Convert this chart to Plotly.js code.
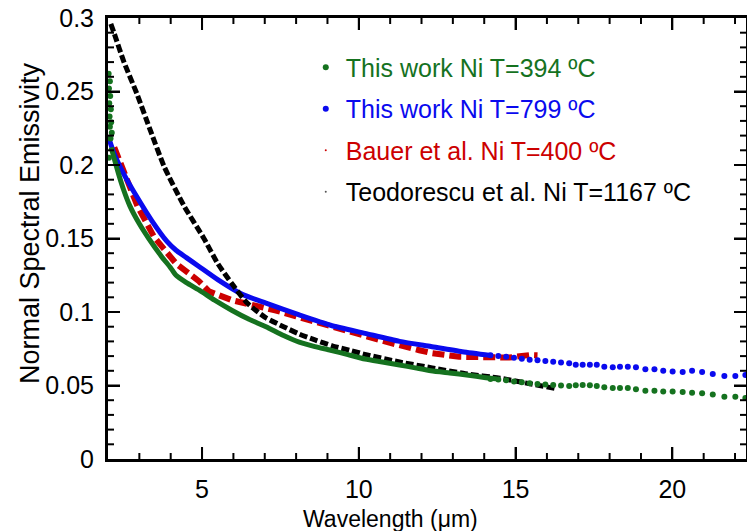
<!DOCTYPE html>
<html>
<head>
<meta charset="utf-8">
<script src="https://cdn.plot.ly/plotly-3.0.1.min.js"></script>
<style>html,body{margin:0;padding:0;background:#fff}#chart{width:747px;height:531px}</style>
</head>
<body>
<div id="chart"></div>
<script>
// ---- Data ----
const seriesNames = [
  'This work Ni T=394 ºC',
  'This work Ni T=799 ºC',
  'Bauer et al. Ni T=400 ºC',
  'Teodorescu et al. Ni T=1167 ºC'
];
const xTitle = 'Wavelength (μm)';
const yTitle = 'Normal Spectral Emissivity';

// This work, 394 C : dense continuous part
const green394_x = [2.1, 2.19, 2.35, 2.5, 2.7, 3.0, 3.3, 3.7, 4.0, 4.17, 4.5, 4.9, 5.4, 5.96, 6.5, 7.04, 7.6, 8.1, 8.6, 9.1, 9.65, 10.2, 10.75, 11.3, 11.8, 12.3, 12.9, 13.5, 14.0, 14.4];
const green394_y = [0.212, 0.205, 0.193, 0.183, 0.172, 0.160, 0.150, 0.138, 0.130, 0.125, 0.120, 0.115, 0.108, 0.101, 0.095, 0.090, 0.084, 0.0795, 0.0765, 0.074, 0.071, 0.068, 0.066, 0.064, 0.062, 0.060, 0.0585, 0.057, 0.0555, 0.0545];
// This work, 394 C : scattered points (start) and sparse tail
const green394pts_x = [2.02, 2.06, 2.03, 2.07, 2.04, 2.09, 2.05, 2.1, 2.06, 2.12, 2.08, 2.03,
  14.2, 14.45, 14.7, 14.95, 15.2, 15.45, 15.7, 15.95, 16.2, 16.45, 16.71, 16.92, 17.14, 17.37, 17.59, 17.83, 18.10, 18.33, 18.58, 18.84, 19.14, 19.43, 19.71, 20.01, 20.33, 20.63, 20.95, 21.29, 21.66, 22.01, 22.33];
const green394pts_y = [0.262, 0.257, 0.252, 0.247, 0.242, 0.238, 0.233, 0.229, 0.226, 0.222, 0.218, 0.205,
  0.0545, 0.0540, 0.0535, 0.0528, 0.0522, 0.0515, 0.0510, 0.0506, 0.0503, 0.0500, 0.0497, 0.0501, 0.0503, 0.0501, 0.0497, 0.0488, 0.0483, 0.0483, 0.0483, 0.0474, 0.0465, 0.0465, 0.0460, 0.0460, 0.0456, 0.0451, 0.0447, 0.0438, 0.0424, 0.0424, 0.0415];

// This work, 799 C
const blue799_x = [2.0, 2.19, 2.5, 2.93, 3.4, 3.88, 4.17, 4.5, 4.9, 5.5, 6.28, 7.04, 8.1, 9.1, 10.2, 11.3, 12.3, 13.3, 14.2];
const blue799_y = [0.220, 0.208, 0.194, 0.178, 0.162, 0.148, 0.142, 0.137, 0.131, 0.122, 0.112, 0.106, 0.098, 0.091, 0.0855, 0.080, 0.0765, 0.073, 0.0705];
const blue799pts_x = [14.2, 14.45, 14.7, 14.95, 15.2, 15.45, 15.7, 15.95, 16.2, 16.45, 16.71, 16.92, 17.14, 17.37, 17.59, 17.83, 18.10, 18.33, 18.58, 18.84, 19.14, 19.43, 19.71, 20.01, 20.33, 20.63, 20.95, 21.29, 21.66, 22.01, 22.33];
const blue799pts_y = [0.0705, 0.0700, 0.0695, 0.0688, 0.0682, 0.0676, 0.0671, 0.0667, 0.0662, 0.0657, 0.0651, 0.0642, 0.0642, 0.0642, 0.0642, 0.0628, 0.0624, 0.0628, 0.0628, 0.0624, 0.0610, 0.0610, 0.0601, 0.0596, 0.0592, 0.0601, 0.0592, 0.0578, 0.0565, 0.0565, 0.0572];

// Bauer et al., 400 C
const bauer_x = [2.2, 2.5, 2.67, 2.94, 3.47, 4.17, 4.9, 5.22, 5.96, 6.6, 7.36, 8.0, 8.64, 9.4, 10.23, 11.0, 11.93, 12.34, 13.2, 14.06, 14.8, 15.44, 15.7];
const bauer_y = [0.212, 0.196, 0.185, 0.172, 0.151, 0.133, 0.121, 0.114, 0.108, 0.105, 0.101, 0.097, 0.093, 0.089, 0.084, 0.079, 0.074, 0.072, 0.0695, 0.0687, 0.069, 0.0707, 0.0705];

// Teodorescu et al., 1167 C
const teo_x = [2.09, 2.19, 2.51, 2.93, 3.36, 3.79, 4.43, 5.06, 5.5, 5.96, 6.4, 6.72, 7.04, 7.6, 8.1, 8.6, 9.15, 9.7, 10.23, 11.3, 12.34, 13.4, 14.5, 15.5, 16.25];
const teo_y = [0.296, 0.290, 0.270, 0.248, 0.223, 0.199, 0.172, 0.150, 0.133, 0.119, 0.107, 0.101, 0.096, 0.090, 0.085, 0.081, 0.077, 0.074, 0.071, 0.066, 0.062, 0.058, 0.055, 0.051, 0.048];

// Axis ranges and tick positions
const xRange = [2, 22.35], yRange = [0, 0.3];
const xMajorTicks = [5, 10, 15, 20];
const xMinorTicks = [3, 4, 6, 7, 8, 9, 11, 12, 13, 14, 16, 17, 18, 19, 21, 22];
const yMajorTicks = [0.05, 0.1, 0.15, 0.2, 0.25];
const yMinorTicks = [0.01, 0.02, 0.03, 0.04, 0.06, 0.07, 0.08, 0.09, 0.11, 0.12, 0.13, 0.14, 0.16, 0.17, 0.18, 0.19, 0.21, 0.22, 0.23, 0.24, 0.26, 0.27, 0.28, 0.29];

// ---- Styles ----
const GREEN = '#15721f', BLUE = '#0a0aee', RED = '#cc0000', BLACK = '#000000';
const FONT = 'Liberation Sans, Arial, sans-serif';
const lbl = (c, t) => '<span style="color:' + c + '">' + t + '</span>';
const PLOT_W = 638, PLOT_H = 441, MAJOR_LEN = 12, MINOR_LEN = 6;

const traces = [
  {x: bauer_x, y: bauer_y, mode: 'lines', line: {color: RED, width: 6, dash: '12px,5px'}, showlegend: false},
  {x: blue799_x, y: blue799_y, mode: 'lines', line: {color: BLUE, width: 5, shape: 'spline', smoothing: 0.6}, showlegend: false},
  {x: blue799pts_x, y: blue799pts_y, mode: 'markers', marker: {color: BLUE, size: 6}, name: lbl(BLUE, seriesNames[1]), legendgroup: 'b', legendrank: 2},
  {x: teo_x, y: teo_y, mode: 'lines', line: {color: BLACK, width: 5, dash: '8px,3px', shape: 'spline', smoothing: 0.6}, showlegend: false},
  {x: green394_x, y: green394_y, mode: 'lines', line: {color: GREEN, width: 5, shape: 'spline', smoothing: 0.6}, showlegend: false},
  {x: green394pts_x, y: green394pts_y, mode: 'markers', marker: {color: GREEN, size: 6}, name: lbl(GREEN, seriesNames[0]), legendgroup: 'g', legendrank: 1},
  {x: [null], y: [null], mode: 'markers', marker: {color: RED, size: 2}, name: lbl(RED, seriesNames[2]), legendgroup: 'r', legendrank: 3},
  {x: [null], y: [null], mode: 'markers', marker: {color: '#555', size: 2}, name: lbl(BLACK, seriesNames[3]), legendgroup: 'k', legendrank: 4}
];

// Tick marks on all four sides, positioned through the axes' own scales
const tickLine = {color: '#000', width: 2};
const shapes = [];
function addXTicks(vals, len) {
  const h = len / PLOT_H;
  vals.forEach(v => {
    shapes.push({type: 'line', xref: 'x', yref: 'paper', x0: v, x1: v, y0: 0, y1: h, line: tickLine, layer: 'above'});
    shapes.push({type: 'line', xref: 'x', yref: 'paper', x0: v, x1: v, y0: 1, y1: 1 - h, line: tickLine, layer: 'above'});
  });
}
function addYTicks(vals, len) {
  const w = len / PLOT_W;
  vals.forEach(v => {
    shapes.push({type: 'line', xref: 'paper', yref: 'y', x0: 0, x1: w, y0: v, y1: v, line: tickLine, layer: 'above'});
    shapes.push({type: 'line', xref: 'paper', yref: 'y', x0: 1, x1: 1 - w, y0: v, y1: v, line: tickLine, layer: 'above'});
  });
}
addXTicks(xMajorTicks, MAJOR_LEN);
addXTicks(xMinorTicks, MINOR_LEN);
addYTicks(yMajorTicks, MAJOR_LEN);
addYTicks(yMinorTicks, MINOR_LEN);

const base = {
  showline: true, linecolor: '#000', linewidth: 3, mirror: 'ticks',
  ticks: 'inside', ticklen: MAJOR_LEN, tickwidth: 2, tickcolor: '#000',
  showgrid: false, zeroline: false, tickmode: 'linear', tick0: 0,
  tickfont: {family: FONT, size: 25, color: '#000'}
};

const layout = {
  width: 747, height: 531,
  margin: {l: 108, r: 1, t: 18, b: 72},
  font: {family: FONT, color: '#000'},
  showlegend: true,
  legend: {x: 0.31, y: 0.94, xanchor: 'left', yanchor: 'top', bgcolor: 'rgba(0,0,0,0)',
           font: {family: FONT, size: 25}, traceorder: 'grouped', tracegroupgap: 6},
  xaxis: Object.assign({}, base, {range: xRange, dtick: 5, ticklabelstandoff: 6}),
  yaxis: Object.assign({}, base, {range: yRange, dtick: 0.05, ticklabelstandoff: 6}),
  shapes: shapes,
  annotations: [
    {text: xTitle, xref: 'paper', yref: 'paper', x: (390 - 108) / PLOT_W, y: -(519 - 459) / PLOT_H,
     xanchor: 'center', yanchor: 'middle', showarrow: false, font: {family: FONT, size: 23, color: '#000'}},
    {text: yTitle, xref: 'paper', yref: 'paper', x: -(108 - 30) / PLOT_W, y: (459 - 223) / PLOT_H,
     xanchor: 'center', yanchor: 'middle', textangle: -90, showarrow: false, font: {family: FONT, size: 27, color: '#000'}}
  ]
};

Plotly.newPlot('chart', traces, layout, {staticPlot: true, displayModeBar: false});
</script>
</body>
</html>
